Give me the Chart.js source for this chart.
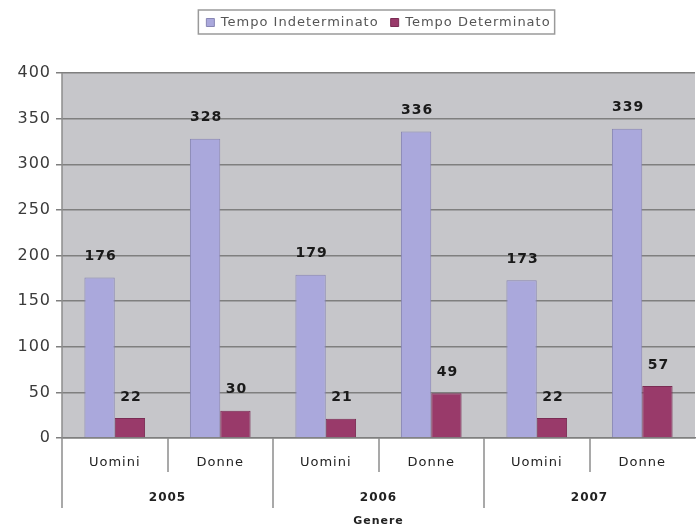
<!DOCTYPE html>
<html>
<head>
<meta charset="utf-8">
<script src="https://cdn.jsdelivr.net/npm/chart.js@4.4.0/dist/chart.umd.min.js"></script>
<style>
  html, body { margin: 0; padding: 0; background: #fff; }
  #wrap { width: 696px; height: 531px; }
</style>
</head>
<body>
<div id="wrap"><canvas id="chart"></canvas></div>
<script>
// data
const genders = ['Uomini', 'Donne', 'Uomini', 'Donne', 'Uomini', 'Donne'];
const years = ['2005', '2006', '2007'];
const indeterminato = [176, 328, 179, 336, 173, 339];
const determinato = [22, 30, 21, 49, 22, 57];
const yTicks = [0, 50, 100, 150, 200, 250, 300, 350, 400];

const FONT = '"DejaVu Sans", "Liberation Sans", Arial, sans-serif';
const SPACING = '1px';

// the source text is drawn wide, so space the letters a little
const wideText = {
    id: 'wideText',
    afterInit(chart) { chart.ctx.letterSpacing = SPACING; },
    beforeLayout(chart) { chart.ctx.letterSpacing = SPACING; },
    beforeDraw(chart) { chart.ctx.letterSpacing = SPACING; }
};

// leave room between the legend and the plot, and move it a bit right
const legendGap = {
    id: 'legendGap',
    afterInit(chart) {
        const lg = chart.legend;
        const fit = lg.fit;
        lg.fit = function() {
            fit.call(this);
            this.height += 34;
        };
    },
    afterLayout(chart) {
        chart.legend.left += 31;
        chart.legend.right += 31;
    }
};

// gray plot background
const plotBg = {
    id: 'plotBg',
    beforeDraw(chart) {
        const a = chart.chartArea;
        const ctx = chart.ctx;
        ctx.save();
        ctx.fillStyle = '#c6c6ca';
        ctx.fillRect(a.left, a.top, a.right - a.left, a.bottom - a.top);
        ctx.restore();
    }
};

// values above bars, category separators, legend frame
const extras = {
    id: 'extras',
    afterDatasetsDraw(chart) {
        const ctx = chart.ctx;
        ctx.save();
        ctx.font = 'bold 14px ' + FONT;
        ctx.fillStyle = '#1a1a1a';
        ctx.textAlign = 'center';
        ctx.textBaseline = 'middle';
        chart.data.datasets.forEach((ds, di) => {
            chart.getDatasetMeta(di).data.forEach((bar, i) => {
                ctx.fillText(ds.data[i], bar.x + 1, bar.y - 21);
            });
        });
        ctx.restore();
    },
    afterDraw(chart) {
        const ctx = chart.ctx;
        const x = chart.scales.x;
        const a = chart.chartArea;
        const step = x.getPixelForValue(1) - x.getPixelForValue(0);
        ctx.save();
        ctx.strokeStyle = '#8c8c8c';
        ctx.lineWidth = 1.5;
        for (let i = 0; i < genders.length; i++) {
            const px = Math.round(x.getPixelForValue(0) - step / 2 + i * step);
            const yearEdge = i % 2 === 0;
            ctx.beginPath();
            ctx.moveTo(px, a.bottom);
            ctx.lineTo(px, a.bottom + (yearEdge ? 70 : 34));
            ctx.stroke();
        }
        // left plot edge
        ctx.beginPath();
        ctx.moveTo(a.left, a.top);
        ctx.lineTo(a.left, a.bottom);
        ctx.stroke();
        // legend frame
        const boxes = chart.legend.legendHitBoxes;
        if (boxes && boxes.length) {
            const l = Math.min(...boxes.map(b => b.left)) - 8;
            const r = Math.max(...boxes.map(b => b.left + b.width)) + 4;
            const t = Math.min(...boxes.map(b => b.top)) - 6;
            const btm = Math.max(...boxes.map(b => b.top + b.height)) + 5;
            ctx.strokeStyle = '#9a9a9a';
            ctx.lineWidth = 1.5;
            ctx.strokeRect(l, t, r - l, btm - t);
        }
        ctx.restore();
    }
};

new Chart(document.getElementById('chart'), {
    type: 'bar',
    data: {
        labels: genders,
        datasets: [{
            label: 'Tempo Indeterminato',
            data: indeterminato,
            backgroundColor: '#aaa8dc',
            borderColor: '#8886b4',
            borderWidth: 1,
            categoryPercentage: 0.575,
            barPercentage: 1.0
        }, {
            label: 'Tempo Determinato',
            data: determinato,
            backgroundColor: '#993a6a',
            borderColor: '#7a2c54',
            borderWidth: 1,
            categoryPercentage: 0.575,
            barPercentage: 1.0
        }]
    },
    options: {
        responsive: true,
        maintainAspectRatio: false,
        animation: false,
        layout: { padding: { top: 4, right: 1, left: 0, bottom: 0 } },
        plugins: {
            legend: {
                position: 'top',
                labels: {
                    color: '#555',
                    boxWidth: 8,
                    boxHeight: 8,
                    padding: 12,
                    font: { family: FONT, size: 13 }
                }
            },
            tooltip: { enabled: false }
        },
        scales: {
            y: {
                min: 0,
                max: 400,
                afterBuildTicks(scale) {
                    scale.ticks = yTicks.map(v => ({ value: v }));
                },
                afterFit(scale) { scale.width = 62; },
                grid: { color: '#7f7f7f', lineWidth: 1.5, tickLength: 6 },
                border: { display: false },
                ticks: {
                    color: '#3a3a3a',
                    padding: 5,
                    font: { family: FONT, size: 16 }
                }
            },
            x: {
                grid: { display: false, drawTicks: false },
                border: { color: '#7f7f7f', width: 1.5 },
                afterFit(scale) { scale.height = 40; },
                ticks: {
                    color: '#222',
                    padding: 17,
                    maxRotation: 0,
                    font: { family: FONT, size: 13 }
                }
            },
            x2: {
                type: 'category',
                labels: years,
                position: 'bottom',
                grid: { display: false, drawTicks: false },
                border: { display: false },
                afterFit(scale) { scale.height = 53; },
                ticks: {
                    color: '#222',
                    padding: 13,
                    maxRotation: 0,
                    font: { family: FONT, size: 12, weight: 'bold' }
                },
                title: {
                    display: true,
                    text: 'Genere',
                    color: '#222',
                    padding: { top: 0, bottom: 3 },
                    font: { family: FONT, size: 11, weight: 'bold' }
                }
            }
        }
    },
    plugins: [wideText, legendGap, plotBg, extras]
});
</script>
</body>
</html>
